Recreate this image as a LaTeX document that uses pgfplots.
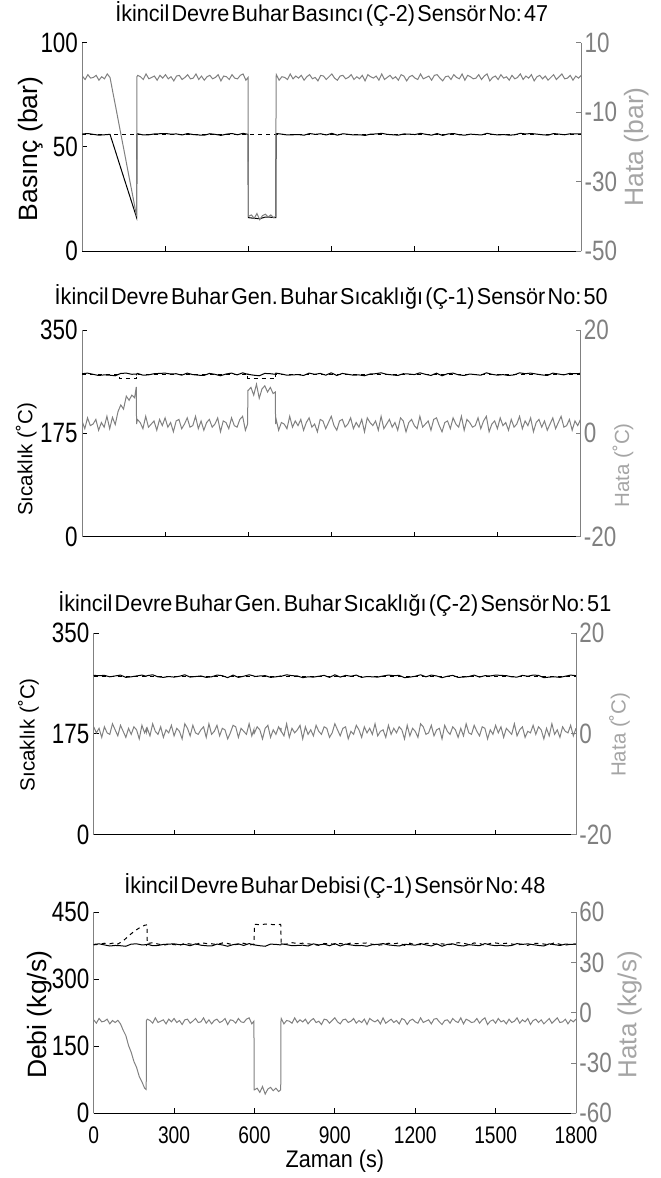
\documentclass[border=0pt]{standalone}
\usepackage{fontspec}
\setmainfont{Liberation Sans}
\newfontfamily\tickfont[FakeStretch=0.8]{Liberation Sans}
\newfontfamily\labfont[FakeStretch=0.9]{Liberation Sans}
\newfontfamily\titlefam[FakeStretch=0.94]{Liberation Sans}
\usepackage{pgfplots}
\usepackage{pgfplotstable}
\pgfplotsset{compat=1.18}
\definecolor{axgray}{RGB}{128,128,128}
\definecolor{tickgray}{RGB}{128,128,128}
\definecolor{labgray}{RGB}{165,165,165}
\definecolor{linegray}{RGB}{128,128,128}
\DeclareRobustCommand\titlefont{\titlefam\fontsize{11.5}{12}\selectfont\frenchspacing\spaceskip=0.1em plus 0.05em\relax}
\DeclareRobustCommand\xlabfont{\labfont\fontsize{12}{12}\selectfont}

\pgfplotstableread{
t p1 p2 p3 p4
0 56.2 276 276.5 378.2
20 56.4 277 276 379.4
40 56.0 275 276.5 377
60 55.6 273 274 374.6
80 55.8 274 275.5 375.8
100 56.0 273.5 277 375.2
120 47.7 272.5 273 374
140 39.3 276.5 274 378.8
160 31.0 277 275.5 379.4
180 22.7 275 277 377
196 16.0 275.5 275 377.6
197 56.1 274.5 275.5 376.4
200 56.3 276.5 276 378.8
220 55.7 273.5 277.5 375.2
240 55.8 274 274 375.8
260 56.2 276 273 378.2
280 56.3 276.5 274.5 378.8
300 56.4 277 273.5 379.4
320 56.1 275.5 275 377.6
340 56.2 276 277.5 378.2
360 55.7 273.5 273.5 375.2
380 56.4 277 274.5 379.4
400 55.9 274.5 275.5 376.4
420 55.7 273.5 273 375.2
440 55.6 273 274 374.6
460 56.3 276.5 277 378.8
480 56.0 275 276 377
500 55.5 272.5 272.5 374
520 56.1 275.5 277 377.6
540 56.4 277 273 379.4
560 55.8 274 275 375.8
580 56.5 277.5 277.5 380
598 56.0 275 275.5 377
599 16.0 275.5 275 377.6
600 16.0 275 274.5 377
620 15.7 273.5 275.5 375.2
640 15.5 272.5 276 374
660 16.3 276.5 273 378.8
680 16.2 276 274 378.2
698 16.0 275 275.5 377
699 56.0 275.5 275 377.6
700 56.4 277 275 379.4
720 56.1 275.5 277.5 377.6
740 55.7 273.5 276 375.2
760 55.8 274 275.5 375.8
780 55.9 274.5 272.5 376.4
800 55.6 273 274 374.6
820 56.4 277 273.5 379.4
840 56.0 275 275 377
860 56.3 276.5 276.5 378.8
880 55.7 273.5 273 375.2
900 56.5 277.5 277.5 380
920 55.6 273 273.5 374.6
940 56.3 276.5 276.5 378.8
960 56.0 275 275 377
980 55.7 273.5 277 375.2
1000 55.8 274 273 375.8
1020 55.5 272.5 274.5 374
1040 56.1 275.5 274 377.6
1060 56.2 276 273.5 378.2
1080 56.5 277.5 275.5 380
1100 56.0 275 277 377
1120 55.8 274 276 375.8
1140 55.6 273 276.5 374.6
1160 56.2 276 272.5 378.2
1180 56.1 275.5 273.5 377.6
1200 55.9 274.5 275 376.4
1220 56.5 277.5 277.5 380
1240 56.0 275 274 377
1260 55.6 273 277 374.6
1280 56.4 277 275.5 379.4
1300 55.5 272.5 272.5 374
1320 56.2 276 275 378.2
1340 56.4 277 276.5 379.4
1360 55.8 274 273 375.8
1380 55.6 273 273.5 374.6
1400 56.1 275.5 274.5 377.6
1420 55.9 274.5 277 376.4
1440 55.7 273.5 273.5 375.2
1460 56.5 277.5 276 380
1480 56.0 275 275.5 377
1500 55.7 273.5 277 375.2
1520 55.9 274.5 276.5 376.4
1540 55.6 273 276 374.6
1560 55.8 274 274 375.8
1580 56.5 277.5 273.5 380
1600 56.2 276 276.5 378.2
1620 56.4 277 275 379.4
1640 56.1 275.5 277 377.6
1660 55.8 274 276.5 375.8
1680 55.6 273 272.5 374.6
1700 56.4 277 273.5 379.4
1720 56.1 275.5 274 377.6
1740 55.8 274 273 375.8
1760 56.3 276.5 275 378.8
1780 56.2 276 277 378.2
1800 56.3 276.5 276 378.8
}\blacktab

\pgfplotstableread{
t g1 g2 g3 g4
0 0.4 2.4 1.4 -4.2
10 -0.6 0.9 0.2 -6.2
20 0.8 3 1.1 -3.4
30 -0.2 1.5 -0.7 -5.4
40 0 1.8 1.4 -5
50 0.6 2.7 0.2 -3.8
60 -0.8 0.6 -0.1 -6.6
70 0.2 2.1 2.0 -4.6
80 -0.4 1.2 0.8 -5.8
90 1 3.3 -0.4 -4.5
100 0 0.9 1.7 -6.6
110 -4.2 3.1 0.5 -10.4
120 -8.3 1.7 -0.7 -13.6
130 -12.5 4.2 1.1 -19.5
140 -16.7 5.5 -0.1 -23.6
150 -20.8 4.7 1.4 -29
160 -25.0 7.2 0.8 -32.6
170 -29.2 6.4 -1.0 -38
180 -33.3 7.4 1.7 -41.2
190 -37.5 6.9 0.2 -45
196 -40 9.0 1.0 -45.8
197 0.2 1.8 0.4 -4.6
200 0.6 2.7 1.1 -3.8
210 0.2 2.1 -0.4 -4.6
220 -0.6 0.9 2.0 -6.2
230 1 3.3 0.5 -3
240 -0.4 1.2 -0.1 -5.8
250 0 1.8 1.4 -5
260 0.4 2.4 -0.7 -4.2
270 -0.8 0.6 0.8 -6.6
280 0.6 2.7 0.2 -3.8
290 -0.2 1.5 1.7 -5.4
300 0.8 3 -0.4 -3.4
310 -0.4 1.2 1.1 -5.8
320 0.2 2.1 0.5 -4.6
330 -1 0.3 -1.0 -7
340 0.4 2.4 2.0 -4.2
350 0.6 2.7 1.1 -3.8
360 -0.6 0.9 -0.4 -6.2
370 0 1.8 1.7 -5
380 0.8 3 0.2 -3.4
390 -0.4 1.2 -0.1 -5.8
400 -0.2 1.5 0.8 -5.4
410 1 3.3 1.4 -3
420 -0.6 0.9 -0.7 -6.2
430 0.4 2.4 2.0 -4.2
440 -0.8 0.6 -0.1 -6.6
450 0.2 2.1 0.5 -4.6
460 0.6 2.7 1.7 -3.8
470 -0.4 1.2 -0.4 -5.8
480 0 1.8 1.1 -5
490 0.8 3 0.8 -3.4
500 -1 0.3 -1.0 -7
510 0.4 2.4 0.2 -4.2
520 0.2 2.1 1.7 -4.6
530 -0.6 0.9 1.4 -6.2
540 0.8 3 -0.7 -3.4
550 -0.2 1.5 1.1 -5.4
560 -0.4 1.2 0.5 -5.8
570 0.6 2.7 -0.1 -3.8
580 1 3.3 2.0 -3
590 -0.8 0.6 -0.4 -6.6
598 0 1.8 0.9 -5
599 -40 8.3 0.1 -46
600 -40 8.3 0.2 -46
610 -39.6 8.9 1.4 -45
620 -40.6 7.4 0.8 -47.5
630 -39.2 9.5 -1.0 -44
640 -41 6.8 1.1 -48.5
650 -39.8 8.6 1.7 -45.5
660 -39.4 9.2 -0.7 -44.5
670 -40.2 8.0 0.8 -46.5
680 -39.6 8.9 -0.1 -45
690 -40.4 7.7 1.4 -47
698 -40 8.0 0.6 -46
699 0 1.8 1.2 -5
700 0.8 3 0.5 -3.4
710 -0.8 0.6 -0.4 -6.6
720 0.2 2.1 2.0 -4.6
730 0 1.8 -0.7 -5
740 -0.6 0.9 1.1 -6.2
750 1 3.3 0.2 -3
760 -0.4 1.2 0.8 -5.8
770 0.4 2.4 1.7 -4.2
780 -0.2 1.5 -1.0 -5.4
790 0.6 2.7 1.4 -3.8
800 -0.8 0.6 -0.1 -6.6
810 0.2 2.1 0.8 -4.6
820 0.8 3 -0.4 -3.4
830 -0.4 1.2 1.7 -5.8
840 0 1.8 0.5 -5
850 -1 0.3 -0.1 -7
860 0.6 2.7 1.4 -3.8
870 0.4 2.4 1.1 -4.2
880 -0.6 0.9 -0.7 -6.2
890 0.2 2.1 0.2 -4.6
900 1 3.3 2.0 -3
910 -0.2 1.5 0.8 -5.4
920 -0.8 0.6 -0.4 -6.6
930 0.4 2.4 1.1 -4.2
940 0.6 2.7 1.4 -3.8
950 -0.4 1.2 -1.0 -5.8
960 0 1.8 0.5 -5
970 0.8 3 -0.1 -3.4
980 -0.6 0.9 1.7 -6.2
990 0.2 2.1 0.8 -4.6
1000 -0.4 1.2 -0.7 -5.8
1010 0.6 2.7 1.4 -3.8
1020 -1 0.3 0.2 -7
1030 0.8 3 1.1 -3.4
1040 0.2 2.1 -0.1 -4.6
1050 -0.2 1.5 2.0 -5.4
1060 0.4 2.4 -0.4 -4.2
1070 -0.8 0.6 0.5 -6.6
1080 1 3.3 0.8 -3
1090 -0.6 0.9 -0.7 -6.2
1100 0 1.8 1.7 -5
1110 0.6 2.7 -0.1 -3.8
1120 -0.4 1.2 1.1 -5.8
1130 0.2 2.1 0.2 -4.6
1140 -0.8 0.6 1.4 -6.6
1150 0.8 3 0.8 -3.4
1160 0.4 2.4 -1.0 -4.2
1170 -1 0.3 1.7 -7
1180 0.2 2.1 -0.4 -4.6
1190 0.6 2.7 1.1 -3.8
1200 -0.2 1.5 0.5 -5.4
1210 -0.6 0.9 -0.7 -6.2
1220 1 3.3 2.0 -3
1230 -0.4 1.2 1.4 -5.8
1240 0 1.8 -0.1 -5
1250 0.4 2.4 0.2 -4.2
1260 -0.8 0.6 1.7 -6.6
1270 0.6 2.7 -0.4 -3.8
1280 0.8 3 0.8 -3.4
1290 -0.2 1.5 1.1 -5.4
1300 -1 0.3 -1.0 -7
1310 0.2 2.1 1.7 -4.6
1320 0.4 2.4 0.5 -4.2
1330 -0.6 0.9 -0.1 -6.2
1340 0.8 3 1.4 -3.4
1350 0 1.8 0.8 -5
1360 -0.4 1.2 -0.7 -5.8
1370 1 3.3 1.1 -3
1380 -0.8 0.6 -0.4 -6.6
1390 0.6 2.7 2.0 -3.8
1400 0.2 2.1 0.2 -4.6
1410 -0.4 1.2 -0.1 -5.8
1420 -0.2 1.5 1.7 -5.4
1430 0.8 3 0.5 -3.4
1440 -0.6 0.9 -0.4 -6.2
1450 0.4 2.4 1.4 -4.2
1460 1 3.3 1.1 -3
1470 -1 0.3 -1.0 -7
1480 0 1.8 0.8 -5
1490 0.4 2.4 -0.1 -4.2
1500 -0.6 0.9 1.7 -6.2
1510 0.8 3 0.2 -3.4
1520 -0.2 1.5 1.4 -5.4
1530 0.2 2.1 -0.7 -4.6
1540 -0.8 0.6 1.1 -6.6
1550 0.6 2.7 0.5 -3.8
1560 -0.4 1.2 -0.1 -5.8
1570 0 1.8 2.0 -5
1580 1 3.3 -0.4 -3
1590 -0.6 0.9 0.8 -6.2
1600 0.4 2.4 1.4 -4.2
1610 -0.2 1.5 -0.7 -5.4
1620 0.8 3 0.5 -3.4
1630 -1 0.3 0.2 -7
1640 0.2 2.1 1.7 -4.6
1650 0.6 2.7 -0.1 -3.8
1660 -0.4 1.2 1.4 -5.8
1670 0.4 2.4 0.8 -4.2
1680 -0.8 0.6 -1.0 -6.6
1690 0 1.8 1.1 -5
1700 0.8 3 -0.4 -3.4
1710 -0.6 0.9 2.0 -6.2
1720 0.2 2.1 -0.1 -4.6
1730 1 3.3 0.8 -3
1740 -0.4 1.2 -0.7 -5.8
1750 -0.2 1.5 1.4 -5.4
1760 0.6 2.7 0.5 -3.8
1770 -0.8 0.6 0.2 -6.6
1780 0.4 2.4 1.7 -4.2
1790 -0.2 1.5 -0.4 -5.4
1800 0.6 2.7 1.1 -3.8
}\graytab

\pgfplotsset{
  common/.style={scale only axis, xmin=0, xmax=1800, tick align=inside,
    major tick length=2.5pt,
    /pgf/number format/assume math mode=true,
    /pgf/number format/1000 sep={}, scaled ticks=false,
    axis line style={-, line width=0.5pt}},
  leftax/.style={common, axis x line*=bottom, axis y line*=left,
    x axis line style={-,black}, y axis line style={-,axgray},
    xtick={0,300,...,1800}, xticklabels={},
    tick style={black, line width=0.5pt},
    yticklabel style={font=\tickfont\fontsize{14}{14}\selectfont, inner sep=0pt, xshift=-2pt},
    every axis title/.style={anchor=base, font=\titlefont},
    every axis y label/.style={rotate=90, anchor=center, text=black}},
  rightax/.style={common, hide x axis, axis y line*=right,
    y axis line style={-,axgray},
    tick style={axgray, line width=0.5pt},
    yticklabel style={font=\tickfont\fontsize{14}{14}\selectfont, text=tickgray, inner sep=0pt, xshift=1.5pt},
    every axis y label/.style={rotate=90, anchor=center, text=labgray}},
}

\begin{document}
\begin{tikzpicture}
\useasboundingbox (0,0) rectangle (330pt,-589pt);

% ---------- Plot 1 ----------
\begin{axis}[leftax, at={(41.15pt,-125.5pt)}, anchor=south west,
  width=249.5pt, height=104.15pt, ymin=0, ymax=100, ytick={0,50,100},
  title={İkincil Devre Buhar Basıncı (Ç-2) Sensör No: 47},
  title style={at={(axis description cs:0.5,1.103)}},
  ylabel={Basınç (bar)},
  ylabel style={at={(axis description cs:-0.104,0.49)}, font=\fontsize{13.25}{14}\selectfont}]
\addplot[black, line width=0.5pt] table[x=t,y=p1]{\blacktab};
\addplot[black, line width=0.5pt, dash pattern=on 2pt off 2pt] coordinates {(0,56)(1800,56)};
\end{axis}
\begin{axis}[rightax, at={(41.15pt,-125.5pt)}, anchor=south west,
  width=249.5pt, height=104.15pt, ymin=-50, ymax=10, ytick={-50,-30,-10,10},
  ylabel={Hata (bar)},
  ylabel style={at={(axis description cs:1.11,0.5)}, font=\fontsize{13.25}{14}\selectfont}]
\addplot[linegray, line width=0.5pt] table[x=t,y=g1]{\graytab};
\end{axis}

% ---------- Plot 2 ----------
\begin{axis}[leftax, at={(41pt,-268.35pt)}, anchor=south west,
  width=249.25pt, height=103.35pt, ymin=0, ymax=350, ytick={0,175,350},
  title={İkincil Devre Buhar Gen. Buhar Sıcaklığı (Ç-1) Sensör No: 50},
  title style={at={(axis description cs:0.5,1.122)}},
  ylabel={Sıcaklık (˚C)},
  ylabel style={at={(axis description cs:-0.112,0.374)}, font=\fontsize{10.25}{11}\selectfont}]
\addplot[black, line width=0.5pt] table[x=t,y=p2]{\blacktab};
\addplot[black, line width=0.5pt, dash pattern=on 2pt off 2pt] coordinates {(0,275)(135,275)(135,268)(196,268)(196,275)(598,275)(598,268)(700,268)(700,275)(1800,275)};
\end{axis}
\begin{axis}[rightax, at={(41pt,-268.35pt)}, anchor=south west,
  width=249.25pt, height=103.35pt, ymin=-20, ymax=20, ytick={-20,0,20},
  ylabel={Hata (˚C)},
  ylabel style={at={(axis description cs:1.085,0.345)}, font=\fontsize{10.25}{11}\selectfont}]
\addplot[linegray, line width=0.5pt] table[x=t,y=g2]{\graytab};
\end{axis}

% ---------- Plot 3 ----------
\begin{axis}[leftax, at={(46.85pt,-417.35pt)}, anchor=south west,
  width=241.15pt, height=100.85pt, ymin=0, ymax=350, ytick={0,175,350},
  title={İkincil Devre Buhar Gen. Buhar Sıcaklığı (Ç-2) Sensör No: 51},
  title style={at={(axis description cs:0.5,1.105)}},
  ylabel={Sıcaklık (˚C)},
  ylabel style={at={(axis description cs:-0.135,0.496)}, font=\fontsize{10.25}{11}\selectfont}]
\addplot[black, line width=0.5pt] table[x=t,y=p3]{\blacktab};
\addplot[black, line width=0.5pt, dash pattern=on 2pt off 2pt] coordinates {(0,275)(1800,275)};
\end{axis}
\begin{axis}[rightax, at={(46.85pt,-417.35pt)}, anchor=south west,
  width=241.15pt, height=100.85pt, ymin=-20, ymax=20, ytick={-20,0,20},
  ylabel={Hata (˚C)},
  ylabel style={at={(axis description cs:1.09,0.496)}, font=\fontsize{10.25}{11}\selectfont}]
\addplot[linegray, line width=0.5pt] table[x=t,y=g3]{\graytab};
\end{axis}

% ---------- Plot 4 ----------
\begin{axis}[leftax, at={(46.85pt,-556.65pt)}, anchor=south west,
  width=241.15pt, height=100.5pt, ymin=0, ymax=450, ytick={0,150,300,450},
  xticklabels={0,300,600,900,1200,1500,1800},
  xticklabel style={font=\tickfont\fontsize{12}{12}\selectfont, inner sep=0pt, yshift=-6.5pt},
  title={İkincil Devre Buhar Debisi (Ç-1) Sensör No: 48},
  title style={at={(axis description cs:0.5,1.096)}},
  xlabel={Zaman (s)},
  xlabel style={at={(axis description cs:0.5,-0.27)}, anchor=base, font=\xlabfont},
  ylabel={Debi (kg/s)},
  ylabel style={at={(axis description cs:-0.112,0.49)}, font=\fontsize{13.25}{14}\selectfont}]
\addplot[black, line width=0.5pt] table[x=t,y=p4]{\blacktab};
\addplot[black, line width=0.5pt, dash pattern=on 2pt off 2pt] coordinates {
(0,377.2)(20,378.4)(40,380.8)(60,379.6)(80,382)(90,379)(110,386)(130,397)(150,407)(170,415)(190,421)(199,422)(200,380)
(220,382)(240,379)(260,376.6)(280,378.4)(300,377.8)(320,376)(340,380.8)(360,379)(380,377.8)
(400,382)(420,380.2)(440,379.6)(460,377.8)(480,381.4)(500,380.2)(520,377.2)(540,378.4)(560,380.8)(580,376.6)
(598,379)(600,423)(620,422.5)(640,423.5)(660,423)(680,422)(698,423)(700,379)
(720,379)(740,382)(760,380.2)(780,380.8)(800,379.6)(820,377.8)(840,376)(860,380.2)(880,379.6)
(900,378.4)(920,380.2)(940,377.8)(960,381.4)(980,379.6)(1000,380.8)(1020,381.4)(1040,378.4)(1060,376.6)(1080,377.2)
(1100,380.8)(1120,379.6)(1140,381.4)(1160,376)(1180,380.8)(1200,377.2)(1220,377.8)(1240,380.2)(1260,380.8)(1280,378.4)
(1300,379.6)(1320,377.2)(1340,379)(1360,382)(1380,380.8)(1400,377.8)(1420,381.4)(1440,380.2)(1460,376)(1480,380.2)
(1500,381.4)(1520,379.6)(1540,380.8)(1560,379)(1580,377.2)(1600,378.4)(1620,376)(1640,380.8)(1660,380.2)(1680,379)
(1700,377.2)(1720,382)(1740,378.4)(1760,376.6)(1780,378.4)(1800,379)};
\end{axis}
\begin{axis}[rightax, at={(46.85pt,-556.65pt)}, anchor=south west,
  width=241.15pt, height=100.5pt, ymin=-60, ymax=60, ytick={-60,-30,0,30,60},
  ylabel={Hata (kg/s)},
  ylabel style={at={(axis description cs:1.111,0.49)}, font=\fontsize{13}{14}\selectfont}]
\addplot[linegray, line width=0.5pt] table[x=t,y=g4]{\graytab};
\end{axis}
\end{tikzpicture}
\end{document}
